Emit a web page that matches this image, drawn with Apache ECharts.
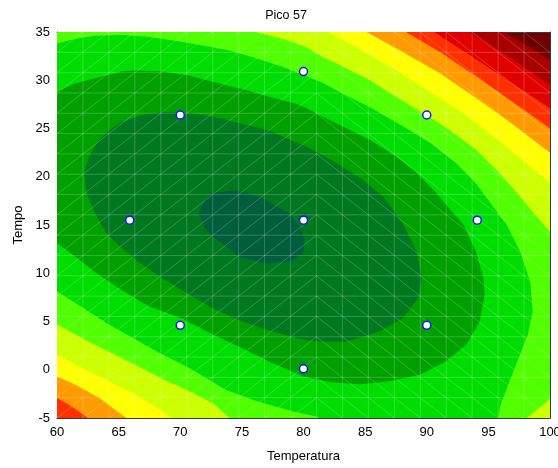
<!DOCTYPE html>
<html>
<head>
<meta charset="utf-8">
<script src="https://cdn.jsdelivr.net/npm/echarts@6/dist/echarts.min.js"></script>
<style>
  html, body { margin: 0; padding: 0; background: #ffffff; }
  #chart { width: 558px; height: 468px; }
</style>
</head>
<body>
<div id="chart"></div>
<script>
// Experimental design points (Temperatura, Tempo)
const temperatura = [65.9, 70, 70, 80, 80, 80, 90, 90, 94.1];
const tempo = [15.5, 4.6, 26.4, 0.1, 15.5, 30.9, 4.6, 26.4, 15.5];

// Axis ranges and tick step
const xRange = [60, 100];
const yRange = [-5, 35];
const tickStep = 5;

// Fill colours of the contour bands, lowest response first
const bandColors = ['#005e3c', '#007820', '#00a000', '#00dd00', '#50ff00', '#ccff00',
                    '#ffff00', '#ff9a00', '#ff3000', '#e00000', '#a80000', '#700000'];

// Contour outlines in axis units. boundaryK encloses bands 0..K;
// vertices just beyond the frame only close the outline and are clipped away.
const boundary0 = [[72.6,18.3],[74.6,18.6],[75.5,18.2],[76.5,17.9],[77.3,17.3],[78.9,16.2],[79.7,14.8],
  [80.1,13.5],[80.0,12.1],[78.9,11.2],[77.0,11.0],[74.7,11.7],[74.1,12.4],[72.6,13.8],[72.0,14.7],
  [71.5,16.2],[72.0,17.6]];
const boundary1 = [[62.2,20.4],[62.4,18.3],[63.1,16.2],[63.7,14.8],[63.9,14.3],[65.0,12.9],[66.6,11.2],
  [68.5,9.5],[70.7,7.8],[72.6,6.4],[75.0,5.0],[77.4,4.0],[80.0,3.1],[81.6,2.9],[83.5,2.9],[86.2,4.0],
  [88.1,5.4],[89.3,7.4],[89.6,9.5],[89.2,12.2],[88.1,15.0],[87.5,16.2],[86.5,17.9],[84.8,19.7],
  [83.2,21.0],[81.6,22.2],[80.0,23.3],[79.3,23.6],[77.2,24.8],[75.0,25.5],[72.8,26.2],[70.7,26.6],
  [68.5,26.7],[66.9,26.4],[65.3,25.7],[64.2,24.8],[63.4,23.8],[62.6,22.1]];
const boundary2 = [[59.0,28.7],[60.0,28.8],[61.5,29.7],[63.4,30.3],[65.3,30.9],[66.4,31.0],[68.5,30.9],
  [70.7,30.5],[72.8,29.8],[75.0,29.1],[77.2,28.3],[79.3,27.6],[80.1,27.2],[81.6,26.2],[83.2,25.2],
  [85.4,23.8],[87.5,22.1],[89.2,20.4],[90.8,18.3],[91.9,16.6],[93.0,15.0],[94.0,12.2],[94.6,9.5],
  [94.7,7.8],[94.3,5.0],[93.2,2.6],[91.6,0.9],[89.5,-0.5],[87.0,-1.2],[84.6,-1.5],[82.2,-1.3],
  [80.0,-0.7],[77.3,0.8],[74.9,2.3],[72.4,3.8],[70.0,5.4],[67.4,6.6],[65.3,8.2],[63.1,10.1],
  [61.5,11.7],[60.0,13.1],[59.0,13.8]];
const boundary3 = [[58.5,33.6],[60.0,33.8],[61.5,34.3],[63.1,34.6],[65.3,34.7],[67.4,34.5],[69.6,34.1],
  [71.8,33.6],[73.9,33.1],[76.1,32.3],[78.3,31.4],[80.1,30.5],[81.6,29.7],[83.2,28.6],[85.4,27.2],
  [88.1,25.2],[90.3,23.5],[92.4,21.4],[94.0,19.3],[95.4,16.9],[96.5,15.0],[97.6,12.2],[98.4,9.1],
  [98.6,6.0],[98.2,3.6],[97.4,1.0],[96.6,-1.6],[96.0,-3.6],[95.8,-4.9],[95.7,-6.5],[81.0,-6.5],
  [81.2,-4.9],[79.1,-4.3],[76.3,-3.3],[73.7,-2.1],[70.7,0.2],[68.5,1.6],[66.4,3.1],[64.2,4.7],
  [62.0,6.5],[60.0,8.1],[58.5,9.0]];
const boundary4 = [[75.5,36.0],[76.1,35.0],[78.3,34.3],[80.1,33.5],[81.6,32.4],[83.2,31.4],[85.4,30.0],
  [87.5,28.3],[89.7,26.6],[91.9,24.8],[94.0,22.8],[95.9,20.4],[97.6,17.9],[98.9,15.9],[100.0,14.3],
  [101.0,13.0],[101.0,-2.2],[100.0,-3.0],[99.1,-4.0],[98.2,-4.9],[97.3,-6.0],[74.5,-6.0],[73.9,-4.9],
  [72.8,-3.6],[70.7,-2.2],[68.5,-0.9],[66.4,0.5],[64.2,1.9],[62.0,3.3],[60.0,4.7],[58.5,5.5],[58.5,36.0]];
const boundary5 = [[81.6,36.0],[82.0,35.0],[84.6,33.2],[87.8,30.8],[90.0,29.0],[92.7,26.8],[95.1,24.5],
  [97.6,21.9],[100.0,19.4],[101.0,18.4],[101.0,-6.0],[69.9,-6.0],[69.2,-4.9],[68.0,-3.8],[66.4,-2.6],
  [64.2,-1.2],[62.0,0.2],[60.0,1.55],[58.5,2.4],[58.5,36.0]];
const boundary6 = [[84.6,36.0],[85.1,35.0],[87.8,33.1],[91.1,30.7],[94.3,27.9],[97.2,25.2],[100.0,22.5],
  [101.0,21.5],[101.0,-6.0],[66.8,-6.0],[65.5,-4.9],[63.4,-2.9],[61.5,-1.55],[60.0,-0.7],[58.5,0.1],
  [58.5,36.0]];
const boundary7 = [[87.8,36.0],[88.3,35.0],[91.1,32.9],[93.9,30.5],[96.8,27.9],[100.0,25.0],[101.0,24.0],
  [101.0,-6.0],[63.2,-6.0],[62.4,-4.9],[61.2,-3.8],[60.0,-2.9],[58.5,-2.0],[58.5,36.0]];
const boundary8 = [[90.2,36.0],[90.6,35.0],[93.5,32.6],[96.8,29.8],[100.0,27.1],[101.0,26.2],
  [101.0,-6.0],[58.5,-6.0],[58.5,36.0]];
const boundary9 = [[93.1,36.0],[93.5,35.0],[96.8,32.3],[100.0,29.5],[101.0,28.6],
  [101.0,-6.0],[58.5,-6.0],[58.5,36.0]];
const boundary10 = [[95.9,36.0],[96.3,35.0],[98.1,33.6],[100.0,32.1],[101.0,31.3],
  [101.0,-6.0],[58.5,-6.0],[58.5,36.0]];

const boundaries = [boundary0, boundary1, boundary2, boundary3, boundary4, boundary5,
                    boundary6, boundary7, boundary8, boundary9, boundary10];

// Number of cells of the triangulated surface mesh along each axis
const meshCells = 19;

const FONT = 'Liberation Sans, Arial, sans-serif';

// Filled contour bands: widest outline first so that inner bands sit on top
function renderBands(params, api) {
  const children = [];
  for (let k = boundaries.length - 1; k >= 0; k--) {
    children.push({
      type: 'polygon',
      shape: { points: boundaries[k].map(p => api.coord(p)) },
      style: { fill: bandColors[k], stroke: null }
    });
  }
  return { type: 'group', children: children };
}

// Faint seams of the triangle mesh the surface was filled with
function renderMesh(params, api) {
  const children = [];
  const dx = (xRange[1] - xRange[0]) / meshCells;
  const dy = (yRange[1] - yRange[0]) / meshCells;
  const seam = { stroke: 'rgba(255,255,255,0.2)', lineWidth: 1 };
  const seg = (a, b) => {
    const p = api.coord(a), q = api.coord(b);
    children.push({ type: 'line', shape: { x1: p[0], y1: p[1], x2: q[0], y2: q[1] }, style: seam });
  };
  for (let i = 1; i < meshCells; i++) {
    const x = xRange[0] + i * dx;
    seg([x, yRange[0]], [x, yRange[1]]);
    const y = yRange[0] + i * dy;
    seg([xRange[0], y], [xRange[1], y]);
  }
  const apex = Math.round(meshCells / 2);
  for (let i = 0; i < meshCells; i++) {
    const x0 = xRange[0] + i * dx, x1 = x0 + dx;
    for (let j = 0; j < meshCells; j++) {
      const y0 = yRange[0] + j * dy, y1 = y0 + dy;
      if (i < apex) seg([x0, y0], [x1, y1]);
      else seg([x0, y1], [x1, y0]);
    }
  }
  return { type: 'group', children: children };
}

const axisColor = '#3a3a3a';
const labelStyle = { fontFamily: FONT, fontSize: 13, color: '#000' };

function valueAxis(range, extra) {
  return Object.assign({
    type: 'value',
    min: range[0],
    max: range[1],
    interval: tickStep,
    axisLine: { show: true, onZero: false, lineStyle: { color: axisColor, width: 1 } },
    axisTick: { show: true, inside: true, length: 4, lineStyle: { color: axisColor } },
    splitLine: { show: false }
  }, extra);
}

const chart = echarts.init(document.getElementById('chart'), null, { renderer: 'canvas' });

chart.setOption({
  animation: false,
  title: {
    text: 'Pico 57',
    left: 286,
    top: 9,
    padding: 0,
    textAlign: 'center',
    textStyle: { fontFamily: FONT, fontSize: 12.5, fontWeight: 'normal', color: '#000' }
  },
  grid: {
    left: 57, right: 8, top: 32, bottom: 50,
    containLabel: false,
    outerBoundsMode: 'none',
    show: true, backgroundColor: bandColors[bandColors.length - 1], borderWidth: 0
  },
  xAxis: [
    valueAxis(xRange, {
      position: 'bottom',
      name: 'Temperatura',
      nameLocation: 'middle',
      nameGap: 32,
      nameTextStyle: labelStyle,
      axisLabel: Object.assign({ margin: 8 }, labelStyle)
    }),
    valueAxis(xRange, { position: 'top', axisLabel: { show: false } })
  ],
  yAxis: [
    valueAxis(yRange, {
      position: 'left',
      name: 'Tempo',
      nameLocation: 'middle',
      nameGap: 31,
      nameTextStyle: labelStyle,
      axisLabel: Object.assign({ margin: 7 }, labelStyle)
    }),
    valueAxis(yRange, { position: 'right', axisLabel: { show: false } })
  ],
  series: [
    {
      type: 'custom',
      name: 'bands',
      xAxisIndex: 0, yAxisIndex: 0,
      clip: true,
      silent: true,
      data: [[xRange[0], yRange[0]]],
      renderItem: renderBands,
      z: 1
    },
    {
      type: 'custom',
      name: 'mesh',
      xAxisIndex: 0, yAxisIndex: 0,
      clip: true,
      silent: true,
      data: [[xRange[0], yRange[0]]],
      renderItem: renderMesh,
      z: 2
    },
    {
      type: 'scatter',
      name: 'design',
      xAxisIndex: 0, yAxisIndex: 0,
      data: temperatura.map((t, i) => [t, tempo[i]]),
      symbol: 'circle',
      symbolSize: 8,
      itemStyle: { color: '#ffffff', borderColor: '#1414ff', borderWidth: 1.5, opacity: 1 },
      z: 5
    }
  ]
});
</script>
</body>
</html>
